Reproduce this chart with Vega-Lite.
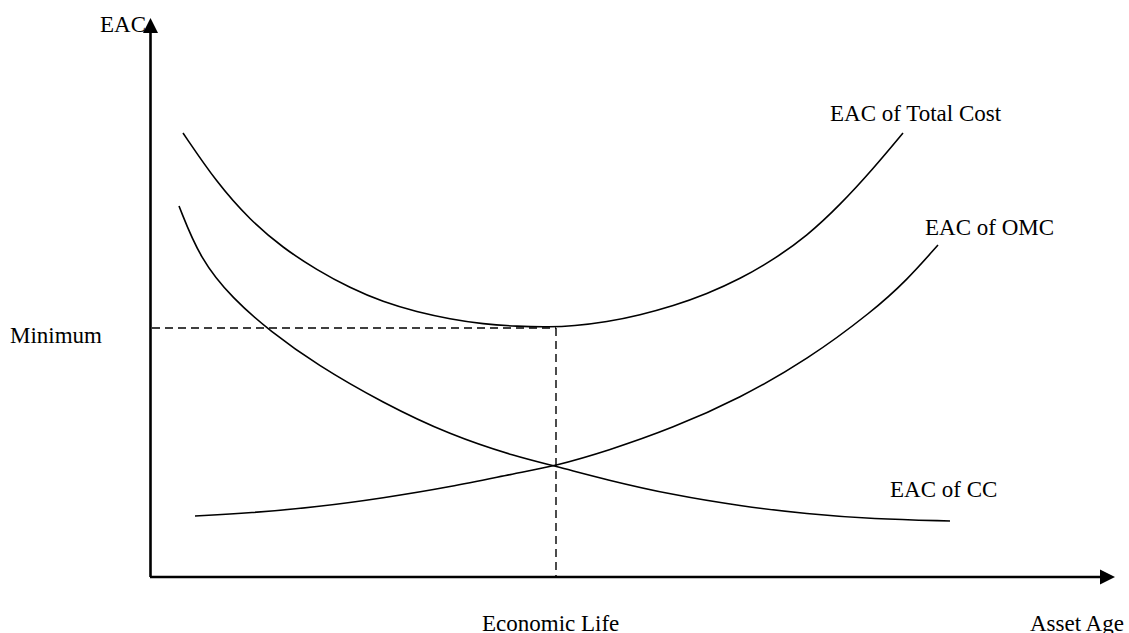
{
  "$schema": "https://vega.github.io/schema/vega-lite/v6.json",
  "width": 1129,
  "height": 633,
  "autosize": {"type": "none"},
  "padding": 0,
  "background": "white",
  "config": {"view": {"stroke": null}},
  "datasets": {
    "curves": [
      {"series": "Total", "x": 33, "y": 444}, {"series": "Total", "x": 67, "y": 394}, {"series": "Total", "x": 100, "y": 357},
      {"series": "Total", "x": 133, "y": 329}, {"series": "Total", "x": 167, "y": 307}, {"series": "Total", "x": 200, "y": 289},
      {"series": "Total", "x": 233, "y": 275}, {"series": "Total", "x": 267, "y": 265}, {"series": "Total", "x": 300, "y": 258},
      {"series": "Total", "x": 333, "y": 253}, {"series": "Total", "x": 367, "y": 250.5}, {"series": "Total", "x": 400, "y": 250},
      {"series": "Total", "x": 423, "y": 251}, {"series": "Total", "x": 457, "y": 255}, {"series": "Total", "x": 490, "y": 262},
      {"series": "Total", "x": 523, "y": 271}, {"series": "Total", "x": 557, "y": 283}, {"series": "Total", "x": 590, "y": 298},
      {"series": "Total", "x": 623, "y": 317}, {"series": "Total", "x": 657, "y": 341}, {"series": "Total", "x": 690, "y": 372},
      {"series": "Total", "x": 723, "y": 408}, {"series": "Total", "x": 753, "y": 444},
      {"series": "OMC", "x": 45, "y": 61}, {"series": "OMC", "x": 100, "y": 64}, {"series": "OMC", "x": 167, "y": 70},
      {"series": "OMC", "x": 233, "y": 79}, {"series": "OMC", "x": 300, "y": 90}, {"series": "OMC", "x": 367, "y": 104},
      {"series": "OMC", "x": 405, "y": 111}, {"series": "OMC", "x": 457, "y": 126}, {"series": "OMC", "x": 523, "y": 149},
      {"series": "OMC", "x": 590, "y": 179}, {"series": "OMC", "x": 657, "y": 217}, {"series": "OMC", "x": 723, "y": 266},
      {"series": "OMC", "x": 757, "y": 297}, {"series": "OMC", "x": 788, "y": 332},
      {"series": "CC", "x": 29, "y": 371}, {"series": "CC", "x": 50, "y": 318}, {"series": "CC", "x": 83, "y": 278},
      {"series": "CC", "x": 120, "y": 246}, {"series": "CC", "x": 167, "y": 212}, {"series": "CC", "x": 233, "y": 174},
      {"series": "CC", "x": 300, "y": 142}, {"series": "CC", "x": 367, "y": 120}, {"series": "CC", "x": 405, "y": 111},
      {"series": "CC", "x": 457, "y": 97}, {"series": "CC", "x": 523, "y": 82}, {"series": "CC", "x": 590, "y": 71},
      {"series": "CC", "x": 657, "y": 63}, {"series": "CC", "x": 723, "y": 58}, {"series": "CC", "x": 800, "y": 56}
    ],
    "axes": [
      {"x": 0.5, "y": 0, "x2": 0.5, "y2": 546},
      {"x": 0, "y": 0, "x2": 952, "y2": 0}
    ],
    "dashes": [
      {"x": 2, "y": 249, "x2": 406, "y2": 249},
      {"x": 406, "y": 249, "x2": 406, "y2": 0}
    ],
    "arrows": [
      {"dir": "up", "x": 0.5, "y": 551.5},
      {"dir": "right", "x": 957.5, "y": 0}
    ],
    "labels": [
      {"text": "EAC", "x": -50, "y": 545},
      {"text": "Minimum", "x": -140, "y": 234},
      {"text": "Economic Life", "x": 332, "y": -54},
      {"text": "Asset Age", "x": 880, "y": -54},
      {"text": "EAC of Total Cost", "x": 680, "y": 456},
      {"text": "EAC of OMC", "x": 775, "y": 342},
      {"text": "EAC of CC", "x": 740, "y": 80}
    ]
  },
  "encoding": {
    "x": {"field": "x", "type": "quantitative", "scale": {"domain": [-150, 979], "nice": false, "zero": false}, "axis": null},
    "y": {"field": "y", "type": "quantitative", "scale": {"domain": [-56, 577], "nice": false, "zero": false}, "axis": null}
  },
  "layer": [
    {
      "data": {"name": "curves"},
      "mark": {"type": "line", "interpolate": "basis", "color": "black", "strokeWidth": 1.6},
      "encoding": {"detail": {"field": "series", "type": "nominal"}}
    },
    {
      "data": {"name": "dashes"},
      "mark": {"type": "rule", "color": "black", "strokeWidth": 1.4, "strokeDash": [8, 5]},
      "encoding": {"x2": {"field": "x2"}, "y2": {"field": "y2"}}
    },
    {
      "data": {"name": "axes"},
      "mark": {"type": "rule", "color": "black", "strokeWidth": 2.6},
      "encoding": {"x2": {"field": "x2"}, "y2": {"field": "y2"}}
    },
    {
      "data": {"name": "arrows"},
      "mark": {"type": "point", "filled": true, "color": "black", "opacity": 1, "size": 225, "strokeWidth": 0},
      "encoding": {
        "shape": {"field": "dir", "type": "nominal", "scale": {"domain": ["up", "right"], "range": ["M-1,1L0,-1L1,1Z", "M-1,-1L1,0L-1,1Z"]}, "legend": null}
      }
    },
    {
      "data": {"name": "labels"},
      "mark": {"type": "text", "align": "left", "baseline": "alphabetic", "font": "Liberation Serif", "fontSize": 23, "color": "black"},
      "encoding": {"text": {"field": "text"}}
    }
  ]
}
